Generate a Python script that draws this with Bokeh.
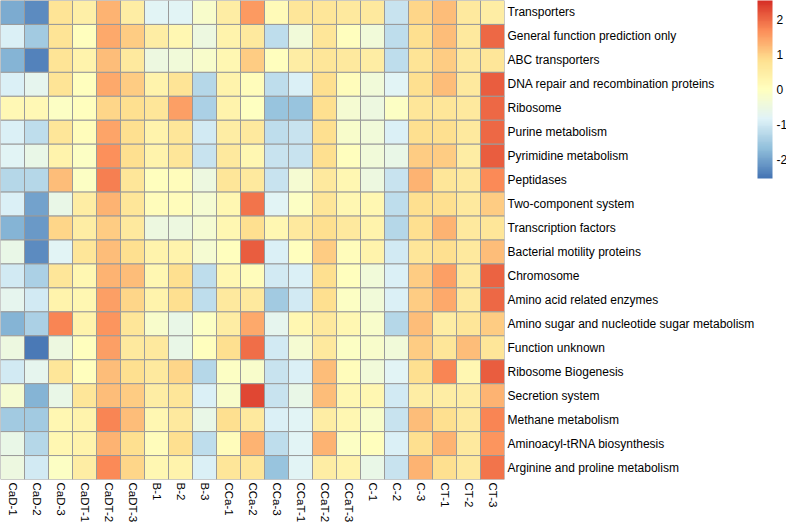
import numpy as np
from math import pi
from bokeh.plotting import figure
from bokeh.models import (FactorRange, LinearColorMapper, ColorBar, FixedTicker,
                          ColumnDataSource)
from bokeh.embed import file_html
from bokeh.resources import INLINE

samples = ["CaD-1", "CaD-2", "CaD-3", "CaDT-1", "CaDT-2", "CaDT-3", "B-1", "B-2", "B-3",
           "CCa-1", "CCa-2", "CCa-3", "CCaT-1", "CCaT-2", "CCaT-3", "C-1", "C-2", "C-3",
           "CT-1", "CT-2", "CT-3"]

pathways = ["Transporters", "General function prediction only", "ABC transporters",
            "DNA repair and recombination proteins", "Ribosome", "Purine metabolism",
            "Pyrimidine metabolism", "Peptidases", "Two-component system",
            "Transcription factors", "Bacterial motility proteins", "Chromosome",
            "Amino acid related enzymes", "Amino sugar and nucleotide sugar metabolism",
            "Function unknown", "Ribosome Biogenesis", "Secretion system",
            "Methane metabolism", "Aminoacyl-tRNA biosynthesis",
            "Arginine and proline metabolism"]

transporters = [-1.9, -2.3, 0.75, 0.45, 1.3, 0.5, -0.8, -0.8, -0.2, 0.5, 1.55, 0.15, 0.7, 0.7, 0.6, 0.6, -1.1, 0.95, 1.2, 0.6, 0.5]
general_function = [-0.9, -1.5, 0.75, 0.0, 1.4, 1.05, 0.5, 0.25, -0.5, 0.35, 0.6, -1.2, -0.4, 0.7, 0.05, -0.4, -1.2, 0.85, 1.2, 0.6, 2.0]
abc_transporters = [-1.8, -2.4, 0.75, 0.35, 1.2, 0.6, -0.5, -0.4, -0.2, 0.25, 1.05, 0.0, 0.5, 0.7, 0.6, 0.5, -1.2, 0.75, 1.05, 0.6, 0.7]
dna_repair = [-0.9, -0.7, 0.75, 0.0, 1.4, 1.05, 0.35, 0.75, -1.3, 0.35, 0.1, -1.2, -0.9, 0.85, 0.1, -0.4, -0.8, 0.85, 1.2, 0.6, 2.15]
ribosome = [0.2, 0.2, -0.1, 0.0, 0.95, 0.85, 0.7, 1.5, -1.4, 0.35, -0.05, -1.6, -1.6, 0.85, -0.3, -0.5, -0.1, 0.7, 0.7, 0.6, 2.0]
purine = [-0.9, -1.2, 0.7, 0.1, 1.45, 0.85, 0.35, 0.7, -1.0, 0.5, 0.6, -1.2, -1.1, 0.85, -0.2, -0.4, -0.9, 0.85, 0.85, 0.6, 2.0]
pyrimidine = [-0.8, -0.6, 0.35, -0.1, 1.65, 0.85, 0.35, 0.7, -1.1, 0.6, 0.25, -1.1, -1.1, 0.85, 0.0, -0.4, -0.6, 1.05, 1.05, 0.5, 2.15]
peptidases = [-1.3, -1.3, 1.2, -0.1, 1.8, 0.7, 0.0, 0.1, -0.5, 0.7, 0.6, -1.1, -0.3, 0.6, 0.25, -0.5, -1.1, 1.3, 0.7, 0.6, 1.7]
two_component = [-0.9, -2.0, -0.6, 0.5, 1.3, 0.7, 0.1, 0.1, -0.3, 0.25, 1.9, -0.8, -0.1, 0.7, 0.25, 0.25, -1.2, 0.85, 0.85, 0.6, 1.05]
transcription = [-1.8, -2.1, 0.95, 0.5, 1.05, 0.6, -0.5, -0.5, -0.3, 0.25, 0.85, 0.25, 0.6, 0.85, 0.6, 0.35, -1.3, 0.85, 1.3, 0.6, 0.7]
motility = [-0.6, -2.3, -0.8, 0.7, 1.2, 0.85, 0.35, 0.35, -0.3, 0.0, 2.15, -0.9, 0.0, 1.05, 0.1, 0.35, -1.0, 0.7, 0.85, 0.6, 1.2]
chromosome = [-1.0, -1.4, 0.7, 0.25, 1.3, 1.2, 0.25, 0.85, -1.2, 0.25, 0.1, -1.0, -0.9, 0.85, 0.0, -0.4, -0.9, 1.05, 1.5, 0.6, 2.05]
amino_acid = [-0.7, -1.0, 0.35, 0.25, 1.5, 0.95, 0.35, 0.85, -1.2, 0.6, 0.6, -1.5, -1.0, 0.85, -0.1, -0.4, -0.9, 1.05, 1.4, 0.6, 2.0]
amino_sugar = [-1.8, -1.4, 1.75, 0.35, 1.6, 0.7, -0.2, -0.6, -0.1, 0.5, 1.4, -0.7, 0.25, 0.6, 0.25, -0.2, -1.3, 1.2, 0.5, 0.7, 1.05]
function_unknown = [-0.5, -2.5, -0.5, 0.0, 1.5, 0.6, 0.6, -0.6, 0.0, 0.85, 1.95, -1.0, -0.3, 0.6, -0.1, -0.2, -0.4, 1.05, 0.7, 1.2, 0.7]
ribosome_biogenesis = [-1.0, -0.7, 0.7, 0.0, 1.2, 0.85, 0.6, 0.95, -1.3, -0.1, -0.2, -1.1, -0.9, 1.2, 0.1, -0.4, -0.8, 0.85, 1.75, 0.25, 2.1]
secretion = [-0.3, -1.8, -0.6, 0.7, 1.2, 1.05, 0.5, 0.7, -0.9, -0.2, 2.35, -1.1, -0.6, 1.2, 0.25, 0.25, -1.0, 0.5, 0.5, 0.5, 1.3]
methane = [-1.5, -1.5, 0.25, 0.35, 1.75, 1.2, 0.25, 0.6, -0.6, 0.85, 0.6, -0.9, -0.8, 0.5, 0.25, -0.2, -1.1, 1.2, 0.85, 0.6, 1.75]
aminoacyl_trna = [-0.6, -1.3, 0.25, 0.35, 1.3, 0.85, 0.1, 0.85, -1.2, 0.1, 1.3, -1.2, -0.8, 1.3, -0.1, 0.0, -0.9, 0.85, 1.3, 0.6, 1.6]
arginine_proline = [-0.5, -1.0, -0.1, 0.5, 1.7, 0.95, 0.25, 0.35, -0.9, 0.7, 0.7, -1.6, -0.8, 0.5, 0.35, -0.6, -1.1, 1.3, 0.85, 0.6, 1.9]

matrix = [transporters, general_function, abc_transporters, dna_repair, ribosome, purine,
          pyrimidine, peptidases, two_component, transcription, motility, chromosome,
          amino_acid, amino_sugar, function_unknown, ribosome_biogenesis, secretion,
          methane, aminoacyl_trna, arginine_proline]

colorbar_ticks = [-2, -1, 0, 1, 2]
colorbar_labels = {-2: "-2", -1: "-1", 0: "0", 1: "1", 2: "2"}

# palette: reversed RdYlBu (7) interpolated to 100 steps
base = ["#4575B4", "#91BFDB", "#E0F3F8", "#FFFFBF", "#FEE090", "#FC8D59", "#D73027"]
rgb = np.array([[int(c[i:i + 2], 16) for i in (1, 3, 5)] for c in base], dtype=float)
pos = np.linspace(0, 1, len(base))
t = np.linspace(0, 1, 100)
pal = []
for tt in t:
    r = np.interp(tt, pos, rgb[:, 0]); g = np.interp(tt, pos, rgb[:, 1]); b = np.interp(tt, pos, rgb[:, 2])
    pal.append("#%02x%02x%02x" % (int(round(r)), int(round(g)), int(round(b))))

xs, ys, vs = [], [], []
for pw, row in zip(pathways, matrix):
    for s, v in zip(samples, row):
        xs.append(s); ys.append(pw); vs.append(v)
src = ColumnDataSource(dict(x=xs, y=ys, v=vs))

mapper = LinearColorMapper(palette=pal, low=-2.56, high=2.56)

FONT = "Liberation Sans"

p = figure(x_range=FactorRange(factors=samples, range_padding=0),
           y_range=FactorRange(factors=list(reversed(pathways)), range_padding=0),
           frame_width=504, frame_height=479, x_axis_location="below",
           y_axis_location="right", output_backend="svg", toolbar_location=None,
           min_border_left=0, min_border_top=0, min_border_bottom=0, min_border_right=0)
p.outline_line_color = None
p.grid.grid_line_color = None
p.background_fill_color = "white"

p.rect(x="x", y="y", width=1, height=1, source=src,
       fill_color={"field": "v", "transform": mapper},
       line_color="#9a9a9a", line_width=1)

for ax in (p.xaxis[0], p.yaxis[0]):
    ax.axis_line_color = None
    ax.major_tick_line_color = None
    ax.minor_tick_line_color = None
    ax.major_tick_out = 0
    ax.major_tick_in = 0
    ax.major_label_text_font = FONT
    ax.major_label_text_font_size = "12px"
    ax.major_label_text_color = "black"
    ax.major_label_standoff = 3
p.xaxis[0].major_label_orientation = -pi / 2
p.xaxis[0].major_label_text_font_size = "11.5px"

cb = ColorBar(color_mapper=mapper, ticker=FixedTicker(ticks=colorbar_ticks),
              major_label_overrides=colorbar_labels,
              width=15, height=178, location="top", padding=0, margin=0,
              major_tick_line_color=None, bar_line_color=None,
              major_label_text_font=FONT, major_label_text_font_size="12px",
              major_label_text_color="black", label_standoff=4,
              background_fill_color=None, border_line_color=None)
p.add_layout(cb, "right")

open("out.html", "w").write(file_html(p, INLINE))
